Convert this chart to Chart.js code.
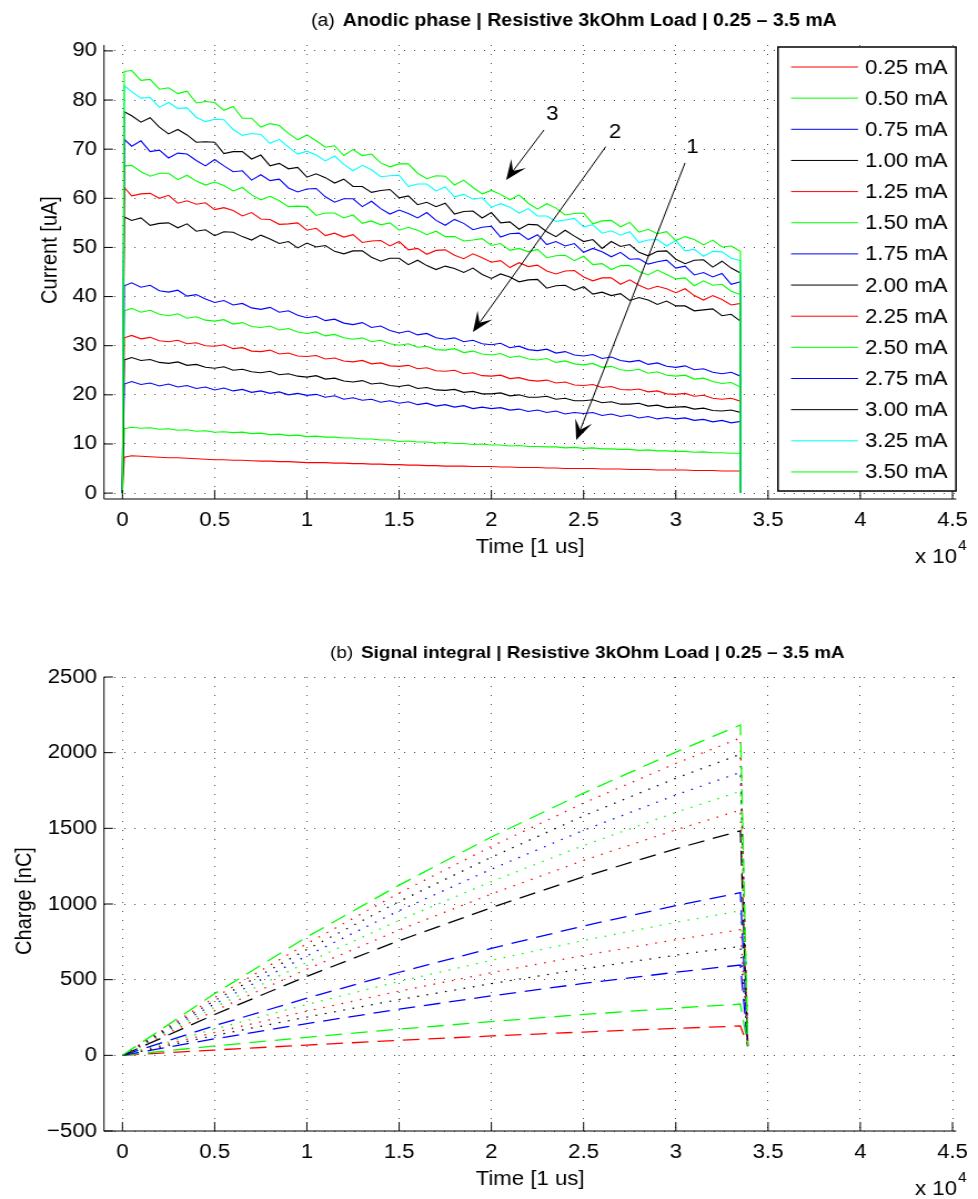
<!DOCTYPE html>
<html>
<head>
<meta charset="utf-8">
<script src="https://cdn.jsdelivr.net/npm/chart.js@4.4.0/dist/chart.umd.min.js"></script>
<style>
  body { margin: 0; background: #fff; }
  #wrap { position: relative; width: 978px; height: 1199px; }
  canvas { position: absolute; left: 0; }
</style>
</head>
<body>
<div id="wrap">
  <canvas id="anodicChart" width="881" height="600" style="top:0;width:978px;height:600px"></canvas>
  <canvas id="integralChart" width="881" height="599" style="top:600px;width:978px;height:599px"></canvas>
</div>
<script>
// Time axis in units of 1e4 us (the "x 10^4" under the axis)
var timeA = [0, 0.01, 0.05, 0.1, 0.15, 0.2, 0.25, 0.3, 0.35, 0.4, 0.45,
  0.5, 0.55, 0.6, 0.65, 0.7, 0.75, 0.8, 0.85, 0.9, 0.95,
  1, 1.05, 1.1, 1.15, 1.2, 1.25, 1.3, 1.35, 1.4, 1.45,
  1.5, 1.55, 1.6, 1.65, 1.7, 1.75, 1.8, 1.85, 1.9, 1.95,
  2, 2.05, 2.1, 2.15, 2.2, 2.25, 2.3, 2.35, 2.4, 2.45,
  2.5, 2.55, 2.6, 2.65, 2.7, 2.75, 2.8, 2.85, 2.9, 2.95,
  3, 3.05, 3.1, 3.15, 3.2, 3.25, 3.3, 3.35, 3.35];

// Anodic current [uA] per stimulation level
var i025 = [0, 7.3, 7.6, 7.5, 7.4, 7.3, 7.2, 7.2, 7.1, 7.0, 6.9,
  6.8, 6.8, 6.7, 6.7, 6.6, 6.5, 6.5, 6.4, 6.4, 6.3,
  6.2, 6.2, 6.2, 6.1, 6.1, 6.0, 6.0, 5.9, 5.9, 5.8,
  5.8, 5.7, 5.7, 5.6, 5.6, 5.5, 5.5, 5.5, 5.4, 5.4,
  5.4, 5.3, 5.3, 5.2, 5.2, 5.2, 5.1, 5.1, 5.0, 5.0,
  5.0, 5.0, 4.9, 4.9, 4.9, 4.8, 4.8, 4.8, 4.7, 4.7,
  4.7, 4.7, 4.6, 4.6, 4.6, 4.5, 4.5, 4.5, 0];
var i050 = [0, 13.1, 13.4, 13.2, 13.3, 13.0, 13.1, 12.8, 12.9, 12.6, 12.7,
  12.4, 12.5, 12.3, 12.4, 12.1, 12.2, 11.9, 12.0, 11.7, 11.8,
  11.5, 11.6, 11.4, 11.4, 11.2, 11.2, 11.0, 11.0, 10.8, 10.8,
  10.5, 10.6, 10.4, 10.4, 10.2, 10.3, 10.1, 10.1, 9.9, 10.0,
  9.8, 9.8, 9.6, 9.7, 9.5, 9.5, 9.4, 9.4, 9.2, 9.3,
  9.1, 9.2, 9.0, 9.0, 8.9, 8.9, 8.7, 8.8, 8.6, 8.6,
  8.5, 8.5, 8.3, 8.4, 8.2, 8.2, 8.1, 8.1, 0];
var i075 = [0, 22.2, 22.7, 22.1, 22.4, 21.8, 22.2, 21.6, 21.9, 21.3, 21.6,
  21.0, 21.4, 20.8, 21.1, 20.5, 20.8, 20.3, 20.6, 20.0, 20.3,
  19.9, 20.1, 19.5, 19.8, 19.1, 19.4, 18.9, 19.1, 18.5, 18.8,
  18.3, 18.6, 18.0, 18.3, 17.7, 18.0, 17.5, 17.8, 17.2, 17.5,
  17.2, 17.4, 16.9, 17.1, 16.6, 16.9, 16.4, 16.7, 16.1, 16.4,
  16.2, 16.4, 15.8, 16.1, 15.6, 15.9, 15.3, 15.6, 15.1, 15.4,
  15.1, 15.3, 14.8, 15.0, 14.5, 14.8, 14.3, 14.6, 0];
var i100 = [0, 27.1, 27.6, 27.0, 27.2, 26.6, 26.4, 26.7, 26.0, 26.2, 25.6,
  25.4, 25.7, 25.0, 25.2, 24.7, 24.5, 24.8, 24.1, 24.3, 23.8,
  23.6, 23.9, 23.2, 23.4, 22.8, 22.6, 22.9, 22.2, 22.4, 21.9,
  21.7, 22.0, 21.3, 21.5, 21.0, 20.9, 21.1, 20.5, 20.7, 20.2,
  20.2, 20.4, 19.8, 20.0, 19.5, 19.5, 19.7, 19.1, 19.3, 18.8,
  18.8, 19.0, 18.4, 18.6, 18.1, 18.1, 18.3, 17.7, 17.9, 17.4,
  17.5, 17.6, 17.1, 17.3, 16.8, 16.7, 16.9, 16.4, 0];
var i125 = [0, 31.6, 32.1, 31.4, 31.7, 31.0, 30.8, 31.1, 30.4, 30.6, 30.0,
  29.9, 30.2, 29.4, 29.6, 28.9, 28.8, 29.1, 28.3, 28.5, 27.9,
  27.8, 28.0, 27.3, 27.5, 26.9, 26.7, 27.0, 26.3, 26.5, 25.9,
  25.8, 26.0, 25.3, 25.5, 24.9, 24.8, 25.0, 24.3, 24.5, 23.9,
  23.8, 24.0, 23.3, 23.5, 23.0, 22.8, 23.0, 22.4, 22.6, 22.0,
  21.9, 22.1, 21.5, 21.7, 21.1, 21.0, 21.2, 20.6, 20.8, 20.2,
  20.1, 20.3, 19.7, 19.9, 19.3, 19.1, 19.3, 18.7, 0];
var i150 = [0, 37.1, 37.6, 36.8, 37.2, 36.4, 36.1, 36.5, 35.6, 35.9, 35.2,
  35.0, 35.3, 34.4, 34.7, 33.9, 33.7, 34.0, 33.2, 33.5, 32.8,
  32.5, 32.8, 32.0, 32.3, 31.6, 31.3, 31.6, 30.8, 31.1, 30.4,
  30.1, 30.4, 29.7, 29.9, 29.2, 29.1, 29.4, 28.6, 28.9, 28.3,
  28.1, 28.4, 27.6, 27.9, 27.3, 27.1, 27.4, 26.6, 26.9, 26.3,
  26.1, 26.4, 25.6, 25.8, 25.1, 24.9, 25.2, 24.4, 24.7, 24.0,
  23.8, 24.0, 23.2, 23.4, 22.7, 22.3, 22.5, 21.6, 0];
var i175 = [0, 42.2, 42.8, 41.9, 42.3, 41.2, 40.9, 41.3, 40.1, 40.4, 39.5,
  38.8, 39.2, 38.3, 38.6, 37.7, 37.4, 37.8, 36.8, 37.1, 36.2,
  35.7, 36.0, 35.1, 35.4, 34.6, 34.3, 34.7, 33.7, 34.0, 33.1,
  32.6, 33.0, 32.2, 32.5, 31.6, 31.3, 31.6, 30.8, 31.1, 30.4,
  30.2, 30.5, 29.6, 29.9, 29.2, 29.0, 29.3, 28.5, 28.8, 28.1,
  27.9, 28.2, 27.4, 27.7, 27.0, 26.7, 27.0, 26.2, 26.5, 25.8,
  25.6, 25.9, 25.1, 25.3, 24.6, 24.3, 24.6, 23.8, 0];
var i200 = [0, 56.2, 55.5, 56.0, 54.5, 54.9, 55.0, 54.0, 54.8, 53.3, 53.6,
  52.4, 53.2, 53.1, 52.2, 51.5, 52.5, 51.7, 50.8, 51.2, 49.9,
  50.9, 50.1, 50.4, 49.2, 48.7, 49.3, 49.3, 48.0, 47.2, 47.8,
  47.8, 46.5, 47.4, 46.3, 45.5, 46.2, 45.7, 44.9, 45.8, 44.5,
  43.7, 44.6, 44.0, 43.0, 43.4, 43.5, 41.7, 42.2, 42.3, 41.3,
  42.0, 40.5, 40.9, 40.2, 40.6, 39.2, 39.8, 39.3, 38.4, 39.1,
  38.1, 38.1, 37.1, 37.3, 37.5, 36.1, 36.4, 35.0, 0];
var i225 = [0, 62.2, 60.5, 60.9, 61.0, 60.0, 60.6, 59.0, 59.5, 58.8, 59.1,
  57.7, 58.1, 57.5, 56.4, 57.1, 55.8, 55.7, 54.7, 54.8, 55.0,
  53.5, 53.9, 52.4, 52.9, 52.1, 52.6, 51.0, 51.3, 51.4, 50.3,
  51.2, 49.5, 49.8, 48.6, 49.4, 49.5, 48.4, 47.7, 48.7, 47.9,
  47.0, 47.3, 45.9, 46.9, 46.1, 46.4, 45.2, 44.6, 45.2, 45.3,
  44.0, 43.2, 43.8, 43.8, 42.5, 43.4, 42.3, 41.5, 42.1, 41.6,
  40.8, 41.6, 40.2, 39.3, 40.2, 39.4, 38.3, 38.6, 0];
var i250 = [0, 66.6, 66.7, 65.4, 64.5, 65.1, 65.1, 63.8, 64.7, 63.5, 62.7,
  63.3, 62.6, 61.5, 62.2, 60.7, 59.7, 60.4, 59.5, 58.3, 58.4,
  58.3, 56.5, 57.0, 57.0, 56.0, 56.6, 54.9, 55.4, 54.6, 55.0,
  53.5, 54.1, 53.5, 52.6, 53.3, 52.2, 52.2, 51.3, 51.5, 51.8,
  50.4, 50.8, 49.4, 49.8, 49.1, 49.6, 47.9, 48.3, 48.4, 47.3,
  48.2, 46.5, 46.7, 45.5, 46.3, 46.3, 45.1, 44.4, 45.4, 44.5,
  43.6, 43.8, 42.2, 43.2, 42.3, 42.5, 41.1, 40.4, 0];
var i275 = [0, 72.0, 70.6, 71.7, 69.5, 69.8, 68.2, 69.2, 69.0, 67.7, 66.6,
  67.9, 66.6, 65.4, 65.6, 63.7, 64.8, 63.6, 63.9, 62.1, 61.3,
  61.9, 62.0, 60.3, 59.2, 59.9, 59.9, 58.3, 59.4, 57.9, 56.8,
  57.6, 56.9, 56.0, 57.1, 55.5, 54.5, 55.7, 54.9, 53.6, 54.1,
  54.3, 52.1, 52.8, 52.9, 51.6, 52.6, 50.6, 51.2, 50.3, 50.8,
  49.0, 49.8, 49.1, 48.1, 49.0, 47.6, 47.7, 46.6, 47.1, 47.4,
  45.8, 46.2, 44.4, 44.9, 44.0, 44.7, 42.5, 43.0, 0];
var i300 = [0, 77.6, 76.8, 75.5, 76.4, 74.5, 73.1, 74.0, 72.9, 71.4, 71.5,
  71.4, 69.1, 69.5, 69.5, 68.0, 68.8, 66.6, 67.1, 66.0, 66.3,
  64.3, 65.0, 64.2, 63.1, 63.9, 62.4, 62.4, 61.2, 61.6, 61.8,
  60.1, 60.5, 58.7, 59.2, 58.3, 59.0, 56.8, 57.3, 57.4, 56.0,
  57.1, 55.0, 55.2, 53.7, 54.7, 54.6, 53.2, 52.2, 53.5, 52.3,
  51.2, 51.6, 49.8, 51.2, 50.2, 50.6, 49.0, 48.3, 49.2, 49.3,
  47.6, 46.7, 47.4, 47.5, 46.0, 47.2, 45.8, 44.8, 0];
var i325 = [0, 82.9, 81.7, 80.4, 80.5, 78.5, 79.5, 78.3, 78.4, 76.5, 75.6,
  76.1, 76.0, 74.0, 72.8, 73.2, 73.0, 71.2, 72.0, 70.4, 69.0,
  69.6, 68.8, 67.6, 68.6, 66.9, 65.6, 66.7, 65.8, 64.4, 64.6,
  64.7, 62.4, 62.9, 62.9, 61.5, 62.3, 60.3, 60.8, 59.8, 60.1,
  58.2, 58.9, 58.2, 57.0, 57.9, 56.4, 56.4, 55.3, 55.6, 55.9,
  54.2, 54.6, 52.9, 53.4, 52.5, 53.2, 51.0, 51.5, 51.6, 50.3,
  51.4, 49.3, 49.6, 48.2, 49.2, 49.1, 47.8, 47.3, 0];
var i350 = [0, 85.8, 86.0, 84.0, 84.2, 82.2, 82.5, 81.3, 81.8, 79.4, 79.7,
  79.5, 77.9, 78.7, 76.3, 76.3, 74.5, 75.2, 74.8, 73.2, 71.9,
  72.9, 71.7, 70.4, 70.7, 68.7, 69.9, 68.7, 69.0, 67.2, 66.4,
  67.0, 67.0, 65.1, 64.0, 64.6, 64.5, 62.7, 63.7, 62.2, 60.9,
  61.6, 60.8, 59.7, 60.7, 59.0, 57.8, 58.9, 58.0, 56.6, 56.9,
  57.0, 54.8, 55.4, 55.5, 54.2, 55.1, 53.1, 53.7, 52.8, 53.2,
  51.4, 52.2, 51.6, 50.5, 51.5, 50.1, 50.3, 49.2, 0];

// Signal integral [nC]
var timeB = [0, 0.5, 1, 1.5, 2, 2.5, 3, 3.35, 3.39];
var q025 = [0, 35, 68, 99, 128, 154, 178, 194, 60];
var q050 = [0, 62, 119, 173, 223, 270, 312, 339, 62];
var q075 = [0, 109, 210, 305, 393, 475, 549, 597, 65];
var q100 = [0, 131, 253, 368, 474, 572, 662, 720, 60];
var q125 = [0, 151, 292, 424, 546, 660, 764, 830, 62];
var q150 = [0, 174, 336, 488, 628, 759, 879, 955, 64];
var q175 = [0, 196, 378, 549, 707, 855, 989, 1075, 66];
var q200 = [0, 270, 522, 758, 976, 1180, 1365, 1484, 60];
var q225 = [0, 295, 570, 828, 1066, 1288, 1490, 1620, 62];
var q250 = [0, 318, 614, 892, 1148, 1387, 1605, 1745, 64];
var q275 = [0, 340, 658, 956, 1230, 1487, 1720, 1870, 66];
var q300 = [0, 362, 700, 1017, 1309, 1582, 1831, 1990, 60];
var q325 = [0, 382, 738, 1072, 1380, 1667, 1929, 2097, 62];
var q350 = [0, 408, 782, 1125, 1443, 1733, 2004, 2183, 64];

var levelLabels = ['0.25 mA', '0.50 mA', '0.75 mA', '1.00 mA', '1.25 mA', '1.50 mA', '1.75 mA',
  '2.00 mA', '2.25 mA', '2.50 mA', '2.75 mA', '3.00 mA', '3.25 mA', '3.50 mA'];
var currentColors = ['#ff0000', '#00ff00', '#0000ff', '#000000', '#ff0000', '#00ff00', '#0000ff',
  '#000000', '#ff0000', '#00ff00', '#0000ff', '#000000', '#00ffff', '#00ff00'];
var chargeColors = ['#ff0000', '#00ff00', '#0000ff', '#000000', '#ff0000', '#00ff00', '#0000ff',
  '#000000', '#ff0000', '#00ff00', '#0000ff', '#000000', '#ff0000', '#00ff00'];
var chargeStyles = ['dash', 'dash', 'dash', 'dot', 'dot', 'dot', 'dash',
  'dash', 'dot', 'dot', 'dot', 'dot', 'dot', 'dash'];

// arrow annotations: [time, current]
var arrowLabels = ['1', '2', '3'];
var arrowTextAt = [[3.09, 70.3], [2.67, 73.3], [2.33, 77.0]];
var arrowTail = [[3.05, 67.2], [2.62, 70.5], [2.285, 73.9]];
var arrowTip = [[2.46, 10.8], [1.90, 32.8], [2.08, 63.7]];

// the original figure is wider than it is tall in its text, so draw narrower and widen with CSS
var stretch = 978 / 881;
function sx(px) { return px / stretch; }

var fontFamily = '"Liberation Sans", Arial, Helvetica, sans-serif';
Chart.defaults.font.family = fontFamily;
Chart.defaults.color = '#000';

function linearAxis(min, max, step, fit, isX) {
  return {
    type: 'linear',
    min: min,
    max: max,
    grid: { color: 'rgba(0,0,0,0.7)', lineWidth: 1, drawTicks: false },
    border: { display: false, dash: [1, 8] },
    ticks: {
      stepSize: step,
      includeBounds: false,
      padding: isX ? 9 : sx(7),
      font: { size: 20 },
      color: '#000',
      callback: function (v) {
        var r = Math.round(v * 10) / 10;
        return r < 0 ? '\u2212' + Math.abs(r) : String(r);
      }
    },
    afterFit: function (scale) {
      if (isX) scale.height = fit; else scale.width = fit;
    }
  };
}

function drawArrow(ctx, x0, y0, x1, y1) {
  var dx = x1 - x0, dy = y1 - y0, len = Math.sqrt(dx * dx + dy * dy);
  var ux = dx / len, uy = dy / len, nx = -uy, ny = ux;
  var L = 20, W = 8;
  ctx.beginPath();
  ctx.moveTo(x0, y0);
  ctx.lineTo(x1 - ux * L * 0.55, y1 - uy * L * 0.55);
  ctx.stroke();
  ctx.beginPath();
  ctx.moveTo(x1, y1);
  ctx.lineTo(x1 - ux * L + nx * W, y1 - uy * L + ny * W);
  ctx.lineTo(x1 - ux * L * 0.55, y1 - uy * L * 0.55);
  ctx.lineTo(x1 - ux * L - nx * W, y1 - uy * L - ny * W);
  ctx.closePath();
  ctx.fill();
}

// axes, inward ticks, titles, legend and arrows in MATLAB style
function decor(opts) {
  return {
    id: 'decor',
    afterDraw: function (chart) {
      var ctx = chart.ctx, area = chart.chartArea;
      var xs = chart.scales.x, ys = chart.scales.y;
      ctx.save();
      ctx.strokeStyle = '#000';
      ctx.fillStyle = '#000';
      ctx.lineWidth = 1;
      ctx.beginPath();
      ctx.moveTo(area.left, area.top);
      ctx.lineTo(area.left, area.bottom);
      ctx.lineTo(area.right, area.bottom);
      xs.ticks.forEach(function (t) {
        var p = xs.getPixelForValue(t.value);
        ctx.moveTo(p, area.bottom);
        ctx.lineTo(p, area.bottom - 9);
      });
      ys.ticks.forEach(function (t) {
        var p = ys.getPixelForValue(t.value);
        ctx.moveTo(area.left, p);
        ctx.lineTo(area.left + sx(9), p);
      });
      ctx.stroke();

      // title: tag in normal weight, rest bold
      ctx.textAlign = 'left';
      ctx.textBaseline = 'alphabetic';
      ctx.font = opts.titleSize + 'px ' + fontFamily;
      var tx = sx(opts.titleX);
      ctx.fillText(opts.tag, tx, opts.titleY);
      tx += ctx.measureText(opts.tag).width + sx(8);
      ctx.font = 'bold ' + opts.titleSize + 'px ' + fontFamily;
      ctx.fillText(opts.title, tx, opts.titleY);

      // axis titles
      ctx.font = '20px ' + fontFamily;
      ctx.textAlign = 'center';
      ctx.textBaseline = 'middle';
      ctx.fillText('Time [1 us]', (area.left + area.right) / 2, area.bottom + 48);
      ctx.save();
      ctx.translate(sx(opts.yTitleX), opts.yTitleY);
      ctx.rotate(-Math.PI / 2);
      ctx.fillText(opts.yTitle, 0, 0);
      ctx.restore();

      // x 10^4
      ctx.textAlign = 'left';
      ctx.textBaseline = 'alphabetic';
      ctx.fillText('x 10', sx(915), area.bottom + 64);
      var w = ctx.measureText('x 10').width;
      ctx.font = '14px ' + fontFamily;
      ctx.fillText('4', sx(915) + w + 1, area.bottom + 51);

      if (opts.arrows) {
        ctx.font = '20px ' + fontFamily;
        ctx.textAlign = 'center';
        ctx.textBaseline = 'middle';
        arrowLabels.forEach(function (lbl, k) {
          drawArrow(ctx,
            xs.getPixelForValue(arrowTail[k][0]), ys.getPixelForValue(arrowTail[k][1]),
            xs.getPixelForValue(arrowTip[k][0]), ys.getPixelForValue(arrowTip[k][1]));
          ctx.fillText(lbl, xs.getPixelForValue(arrowTextAt[k][0]), ys.getPixelForValue(arrowTextAt[k][1]));
        });
      }

      if (opts.legend) {
        var bx0 = sx(778), bx1 = sx(956), by0 = 47, by1 = 491;
        ctx.fillStyle = '#fff';
        ctx.fillRect(bx0, by0, bx1 - bx0, by1 - by0);
        ctx.strokeStyle = '#000';
        ctx.lineWidth = 1.5;
        ctx.strokeRect(bx0, by0, bx1 - bx0, by1 - by0);
        ctx.font = '20px ' + fontFamily;
        ctx.textAlign = 'left';
        ctx.textBaseline = 'middle';
        chart.data.datasets.forEach(function (ds, k) {
          var y = 67 + k * 31.15;
          ctx.strokeStyle = ds.borderColor;
          ctx.lineWidth = 1;
          ctx.beginPath();
          ctx.moveTo(sx(791), y);
          ctx.lineTo(sx(858), y);
          ctx.stroke();
          ctx.fillStyle = '#000';
          ctx.fillText(ds.label, sx(865), y + 1);
        });
      }
      ctx.restore();
    }
  };
}

// Create top chart
var currentSeries = [i025, i050, i075, i100, i125, i150, i175, i200, i225, i250, i275, i300, i325, i350];
var ctxA = document.getElementById('anodicChart').getContext('2d');
var anodicChart = new Chart(ctxA, {
  type: 'line',
  data: {
    datasets: currentSeries.map(function (vals, k) {
      return {
        label: levelLabels[k],
        data: timeA.map(function (t, j) { return { x: t, y: vals[j] }; }),
        borderColor: currentColors[k],
        borderWidth: 1.1,
        pointRadius: 0,
        fill: false,
        tension: 0,
        order: currentSeries.length - k
      };
    })
  },
  options: {
    responsive: false,
    animation: false,
    devicePixelRatio: 1,
    layout: { padding: { left: 0, right: 881 - sx(964), top: 45, bottom: 0 } },
    plugins: { legend: { display: false }, tooltip: { enabled: false } },
    scales: {
      x: linearAxis(-0.1, 4.52, 0.5, 101, true),
      y: linearAxis(-1.2, 91.2, 10, sx(104), false)
    }
  },
  plugins: [decor({
    tag: '(a)', title: 'Anodic phase | Resistive 3kOhm Load | 0.25 \u2013 3.5 mA',
    titleX: 311, titleY: 26, titleSize: 17.6, yTitle: 'Current [uA]', yTitleX: 50, yTitleY: 250,
    arrows: true, legend: true
  })]
});

// Create bottom chart
var chargeSeries = [q025, q050, q075, q100, q125, q150, q175, q200, q225, q250, q275, q300, q325, q350];
var ctxB = document.getElementById('integralChart').getContext('2d');
var integralChart = new Chart(ctxB, {
  type: 'line',
  data: {
    datasets: chargeSeries.map(function (vals, k) {
      return {
        label: levelLabels[k],
        data: timeB.map(function (t, j) { return { x: t, y: vals[j] }; }),
        borderColor: chargeColors[k],
        borderWidth: 1.3,
        borderDash: chargeStyles[k] === 'dash' ? [15, 8] : [1.5, 7],
        pointRadius: 0,
        fill: false,
        tension: 0,
        order: chargeSeries.length - k
      };
    })
  },
  options: {
    responsive: false,
    animation: false,
    devicePixelRatio: 1,
    layout: { padding: { left: 0, right: 881 - sx(964), top: 77, bottom: 0 } },
    plugins: { legend: { display: false }, tooltip: { enabled: false } },
    scales: {
      x: linearAxis(-0.1, 4.52, 0.5, 68, true),
      y: linearAxis(-500, 2500, 500, sx(104), false)
    }
  },
  plugins: [decor({
    tag: '(b)', title: 'Signal integral | Resistive 3kOhm Load | 0.25 \u2013 3.5 mA',
    titleX: 330, titleY: 58, titleSize: 17, yTitle: 'Charge [nC]', yTitleX: 25, yTitleY: 301,
    arrows: false, legend: false
  })]
});
</script>
</body>
</html>
